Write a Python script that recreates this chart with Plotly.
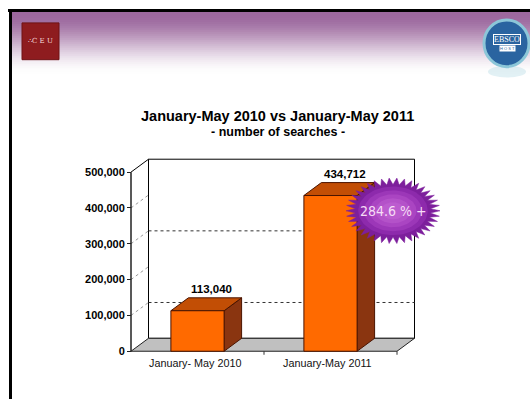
import numpy as np
import plotly.graph_objects as go

# ---------------- data ----------------
categories = ["January- May 2010", "January-May 2011"]
searches = [113040, 434712]
value_labels = ["113,040", "434,712"]
y_ticks = [0, 100000, 200000, 300000, 400000, 500000]
grid_values = [100000, 300000]
growth_label = "284.6 % +"
title_text = "January-May 2010 vs January-May 2011"
subtitle_text = "- number of searches -"

# ---------------- geometry ----------------
W, H = 530, 401
X0_PX, Y0_PX = 131.0, 353.0
PX_PER_X = 133.0
PX_PER_Y = 36.0 / 100000
X_RANGE = [-0.06, 2.5]
Y_RANGE = [-10000, 560000]
DX = 17.5 / PX_PER_X
DY = 13.0 / PX_PER_Y
BAR_W = 0.4
YMAX = y_ticks[-1]
NCAT = len(categories)
centers = [i + 0.5 for i in range(NCAT)]


def px_x(v):
    return X0_PX + (v) * PX_PER_X


def px_y(v):
    return Y0_PX - v * PX_PER_Y


x_dom = [px_x(X_RANGE[0]) / W, px_x(X_RANGE[1]) / W]
y_dom = [1 - px_y(Y_RANGE[0]) / H, 1 - px_y(Y_RANGE[1]) / H]

FONT = "Liberation Sans, Arial, sans-serif"

fig = go.Figure()


def poly(xs, ys, fill=None, line="black", width=1.0, dash="solid"):
    xs = list(xs)
    ys = list(ys)
    if fill is not None:
        xs = xs + [xs[0]]
        ys = ys + [ys[0]]
    fig.add_trace(go.Scatter(
        x=xs, y=ys, mode="lines",
        fill="toself" if fill is not None else None,
        fillcolor=fill,
        line=dict(color=line, width=width, dash=dash),
        hoverinfo="skip", showlegend=False,
    ))


# left side wall (white) and back wall
poly([0, 0, DX, DX], [0, YMAX, YMAX + DY, DY], fill="white", line="rgba(0,0,0,0)", width=0)
poly([DX, NCAT + DX, NCAT + DX, DX], [DY, DY, YMAX + DY, YMAX + DY], fill="white", line="black", width=1)
# floor
poly([0, NCAT, NCAT + DX, DX], [0, 0, DY, DY], fill="#c0c0c0", line="#222222", width=1)
# dotted gridlines on back wall
for g in grid_values:
    poly([DX, NCAT + DX], [g + DY, g + DY], line="#333333", width=1, dash="dot")
# tick diagonals on side wall
for t in y_ticks[1:-1]:
    poly([0, DX], [t, t + DY], line="#9a9a9a", width=1, dash="dot")
poly([0, DX], [YMAX, YMAX + DY], line="black", width=1)
# front vertical axis line
poly([0, 0], [0, YMAX], line="#222222", width=1.5)

# bars (3D boxes)
FRONT = "#ff6a00"
TOP = "#c24e05"
SIDE = "#8a3510"
EDGE = "#4a1400"
for c, v in zip(centers, searches):
    l, r = c - BAR_W / 2, c + BAR_W / 2
    poly([r, r + DX, r + DX, r], [0, DY, v + DY, v], fill=SIDE, line=EDGE, width=1)
    poly([l, r, r + DX, l + DX], [v, v, v + DY, v + DY], fill=TOP, line=EDGE, width=1)
    poly([l, r, r, l], [0, 0, v, v], fill=FRONT, line=EDGE, width=1)

# starburst callout next to the second bar
BX, BY = 1.97, 392000
RX = 47.0 / PX_PER_X
RY = 33.0 / PX_PER_Y
n_sp = 38
ang = np.linspace(0, 2 * np.pi, 2 * n_sp, endpoint=False)
rad = np.where(np.arange(2 * n_sp) % 2 == 0, 1.0, 0.8)
poly(BX + RX * rad * np.cos(ang), BY + RY * rad * np.sin(ang), fill="#7d1f9c", line="#7d1f9c", width=0.5)
th = np.linspace(0, 2 * np.pi, 80, endpoint=False)
for s, col in [(0.74, "#8d2aac"), (0.62, "#9c37b8"), (0.5, "#aa45c2"), (0.38, "#b452c9"), (0.26, "#bc5ccf")]:
    poly(BX + RX * s * np.cos(th), BY + RY * s * np.sin(th), fill=col, line="rgba(0,0,0,0)", width=0)

annotations = []
# value labels
for c, v, lab in zip(centers, searches, value_labels):
    annotations.append(dict(x=c + DX * 0.8, y=v + DY, xref="x", yref="y", text="<b>%s</b>" % lab,
                            showarrow=False, xanchor="center", yanchor="bottom", yshift=1,
                            font=dict(family=FONT, size=11.5, color="black")))
# category labels
for c, lab in zip(centers, categories):
    annotations.append(dict(x=c - 0.02, y=0, xref="x", yref="y", text=lab, showarrow=False,
                            xanchor="center", yanchor="top", yshift=-4,
                            font=dict(family=FONT, size=10.8, color="#111111")))
# burst text
annotations.append(dict(x=BX, y=BY, xref="x", yref="y", text=growth_label, showarrow=False,
                        xanchor="center", yanchor="middle",
                        font=dict(family="Liberation Sans Narrow, DejaVu Sans Condensed, Arial", size=14,
                                  color="#f6dcf6")))
# titles
annotations.append(dict(x=277 / W, y=1 - 117 / H, xref="paper", yref="paper", text="<b>%s</b>" % title_text,
                        showarrow=False, xanchor="center", yanchor="middle",
                        font=dict(family=FONT, size=14.5, color="black")))
annotations.append(dict(x=277.5 / W, y=1 - 133 / H, xref="paper", yref="paper", text="<b>%s</b>" % subtitle_text,
                        showarrow=False, xanchor="center", yanchor="middle",
                        font=dict(family=FONT, size=12.5, color="black")))
# logos text
annotations.append(dict(x=40.5 / W, y=1 - 41.5 / H, xref="paper", yref="paper", text="\u2234C E U",
                        showarrow=False, xanchor="center", yanchor="middle",
                        font=dict(family="DejaVu Serif, serif", size=7, color="#f3dada")))
annotations.append(dict(x=507 / W, y=1 - 40 / H, xref="paper", yref="paper", text="EBSCO", showarrow=False,
                        xanchor="center", yanchor="middle",
                        bgcolor="#2a64a0", bordercolor="white", borderwidth=1, borderpad=0,
                        font=dict(family="Liberation Serif, serif", size=8, color="white")))
annotations.append(dict(x=507 / W, y=1 - 49 / H, xref="paper", yref="paper", text="H O S T", showarrow=False,
                        xanchor="center", yanchor="middle", bgcolor="white", borderpad=0,
                        font=dict(family=FONT, size=4, color="#2a64a0")))

shapes = []
# header gradient band
top_col = np.array([156, 104, 158])
white = np.array([255, 255, 255])
n_band = 32
y_start, y_end = 12.0, 76.0
for i in range(n_band):
    t = i / (n_band - 1)
    s = t * t * (3 - 2 * t)
    col = top_col + (white - top_col) * s
    ya = y_start + (y_end - y_start) * i / n_band
    yb = y_start + (y_end - y_start) * (i + 1) / n_band + 0.5
    shapes.append(dict(type="rect", xref="paper", yref="paper", x0=11 / W, x1=1, y0=1 - yb / H, y1=1 - ya / H,
                       fillcolor="rgb(%d,%d,%d)" % tuple(col.astype(int)), line=dict(width=0), layer="below"))
# black frame lines
shapes.append(dict(type="line", xref="paper", yref="paper", x0=8 / W, x1=1, y0=1 - 10.5 / H, y1=1 - 10.5 / H,
                   line=dict(color="black", width=3)))
shapes.append(dict(type="line", xref="paper", yref="paper", x0=10.5 / W, x1=10.5 / W, y0=0, y1=1 - 9 / H,
                   line=dict(color="black", width=3)))
# CEU logo square
shapes.append(dict(type="rect", xref="paper", yref="paper", x0=22 / W, x1=59 / W, y0=1 - 60 / H, y1=1 - 23 / H,
                   fillcolor="#8e1c1f", line=dict(color="#6e1215", width=1)))
# EBSCO logo circle
shapes.append(dict(type="circle", xref="paper", yref="paper", x0=484 / W, x1=529 / W, y0=1 - 67 / H,
                   y1=1 - 20 / H, fillcolor="#2a64a0", line=dict(color="#8cc6d8", width=3)))
shapes.append(dict(type="circle", xref="paper", yref="paper", x0=488 / W, x1=526 / W, y0=1 - 78 / H,
                   y1=1 - 66 / H, fillcolor="rgba(140,198,216,0.25)", line=dict(width=0)))
# small category separator ticks below the floor
for k in range(1, NCAT + 1):
    shapes.append(dict(type="line", xref="x", yref="y", x0=k, x1=k, y0=0, y1=-4 / PX_PER_Y,
                       line=dict(color="#333333", width=1)))

fig.update_layout(
    width=W, height=H,
    margin=dict(l=0, r=0, t=0, b=0),
    paper_bgcolor="white", plot_bgcolor="rgba(0,0,0,0)",
    showlegend=False,
    xaxis=dict(domain=x_dom, range=X_RANGE, visible=False, fixedrange=True),
    yaxis=dict(domain=y_dom, range=Y_RANGE, anchor="free", position=X0_PX / W,
               tickmode="array", tickvals=y_ticks,
               ticktext=["<b>{:,}</b>".format(t) for t in y_ticks],
               ticks="outside", ticklen=4, tickcolor="#222222", tickwidth=1,
               showgrid=False, zeroline=False, showline=False,
               tickfont=dict(family=FONT, size=11, color="black"), fixedrange=True),
    annotations=annotations,
    shapes=shapes,
)

fig.write_html("out.html", config={"displayModeBar": False},
               post_script="document.body.style.margin='0';document.body.style.overflow='hidden';")
